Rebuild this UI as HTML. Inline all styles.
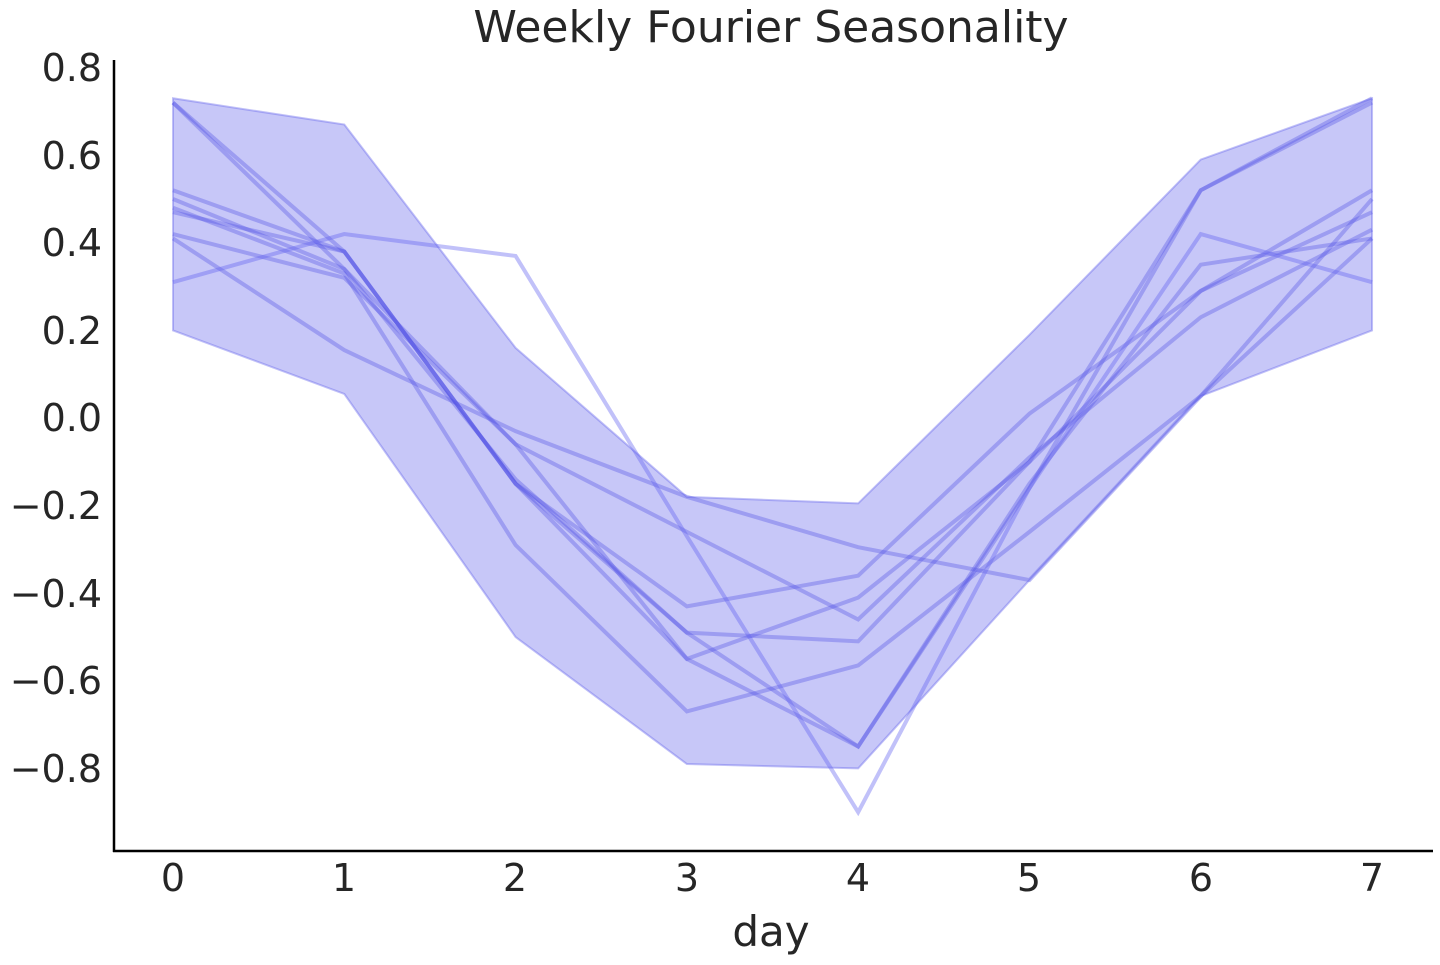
<!DOCTYPE html>
<html><head><meta charset="utf-8"><style>
body{margin:0;background:#fff;}
svg text{font-family:"DejaVu Sans","Liberation Sans",sans-serif;fill:#262626;}
</style></head><body>
<svg id="s" width="1440" height="960" xmlns="http://www.w3.org/2000/svg">
<g id="plot"></g>
<line x1="114" y1="60" x2="114" y2="852" stroke="#000" stroke-width="2.5"/>
<line x1="113" y1="851" x2="1433" y2="851" stroke="#000" stroke-width="2.5"/>
<text x="771" y="42" font-size="44" text-anchor="middle">Weekly Fourier Seasonality</text>
<g font-size="38" text-anchor="end">
<text x="102" y="81">0.8</text>
<text x="102" y="169">0.6</text>
<text x="102" y="256">0.4</text>
<text x="102" y="344">0.2</text>
<text x="102" y="431">0.0</text>
<text x="102" y="519">−0.2</text>
<text x="102" y="607">−0.4</text>
<text x="102" y="694">−0.6</text>
<text x="102" y="782">−0.8</text>
</g>
<g font-size="38" text-anchor="middle">
<text x="173" y="891">0</text>
<text x="344" y="891">1</text>
<text x="515" y="891">2</text>
<text x="687" y="891">3</text>
<text x="858" y="891">4</text>
<text x="1029" y="891">5</text>
<text x="1201" y="891">6</text>
<text x="1372" y="891">7</text>
<text x="771" y="946" font-size="42">day</text>
</g>
</svg>
<script>
var X=function(i){return 173+i*171.29}, Y=function(v){return 418-438*v};
var up=[0.73,0.67,0.16,-0.18,-0.195,0.19,0.59,0.73], lo=[0.2,0.055,-0.5,-0.79,-0.80,-0.37,0.05,0.2];
var g=document.getElementById('plot'),NS='http://www.w3.org/2000/svg';
var pts=[];for(var i=0;i<8;i++)pts.push(X(i)+','+Y(up[i]));for(var i=7;i>=0;i--)pts.push(X(i)+','+Y(lo[i]));
var p=document.createElementNS(NS,'polygon');p.setAttribute('points',pts.join(' '));
p.setAttribute('fill','rgba(100,100,235,0.36)');p.setAttribute('stroke','rgba(100,100,235,0.4)');p.setAttribute('stroke-width','2');g.appendChild(p);
var L=[
[0.72,0.38,-0.15,-0.55,-0.41,-0.1,0.52,0.72],
[0.72,0.34,-0.14,-0.49,-0.75,-0.16,0.52,0.73],
[0.41,0.155,-0.03,-0.18,-0.295,-0.37,0.05,0.41],
[0.52,0.38,-0.15,-0.43,-0.36,0.01,0.29,0.52],
[0.47,0.38,-0.15,-0.49,-0.51,-0.1,0.29,0.47],
[0.42,0.32,-0.06,-0.26,-0.46,-0.09,0.23,0.43],
[0.48,0.33,-0.29,-0.67,-0.565,-0.26,0.05,0.5],
[0.5,0.34,-0.06,-0.55,-0.75,-0.15,0.35,0.41]];
L.forEach(function(a){var q=document.createElementNS(NS,'polyline');q.setAttribute('points',a.map(function(v,i){return X(i)+','+Y(v)}).join(' '));
q.setAttribute('fill','none');q.setAttribute('stroke','rgba(80,80,230,0.35)');q.setAttribute('stroke-width','4');g.appendChild(q);});
var c=[0.31,0.42,0.37,-0.27,-0.9,-0.16,0.42,0.31];
var q=document.createElementNS(NS,'polyline');q.setAttribute('points',c.map(function(v,i){return X(i)+','+Y(v)}).join(' '));
q.setAttribute('fill','none');q.setAttribute('stroke','rgba(100,100,240,0.4)');q.setAttribute('stroke-width','4');g.appendChild(q);
</script>
</body></html>
